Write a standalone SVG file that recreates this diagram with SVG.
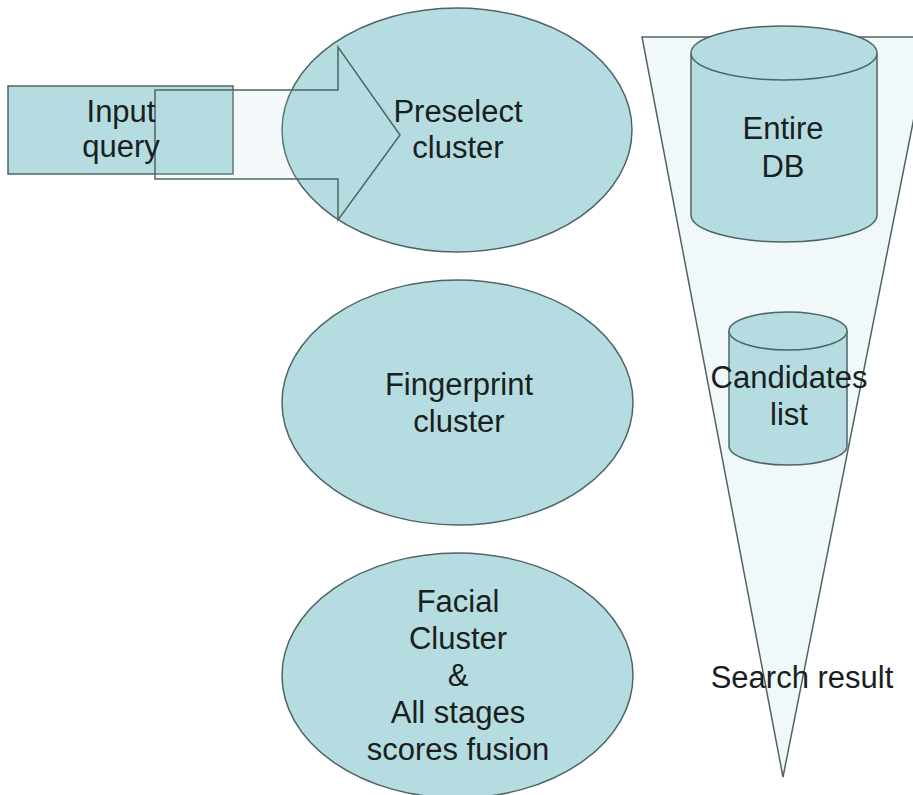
<svg xmlns="http://www.w3.org/2000/svg" width="913" height="795" viewBox="0 0 913 795">
<style>
.shape{fill:#b5dde1;stroke:#4f6464;stroke-width:1.5}
.light{fill:#f0f8f9;stroke:#4f6464;stroke-width:1.5}
.t{font-family:"Liberation Sans",Arial,sans-serif;font-size:31px;fill:#1a2020;text-anchor:middle}
</style>
<rect width="913" height="795" fill="#ffffff"/>
<g id="funnel">
<polygon class="light" points="642,37 930,37 783,777"/>
</g>
<g id="preselect">
<ellipse class="shape" cx="457" cy="130" rx="175" ry="122"/>
</g>
<g id="input-query">
<rect class="shape" x="8" y="86" width="225" height="88"/>
</g>
<g id="connectors">
<polygon points="155,90 338,90 338,47 400,135 338,220 338,179 155,179" fill="#b5dde1" fill-opacity="0.15" stroke="#4f6464" stroke-width="1.5"/>
</g>
<g id="input-query-label">
<text class="t" x="121" y="122">Input</text>
<text class="t" x="121" y="157">query</text>
</g>
<g id="preselect-label">
<text class="t" x="458" y="122">Preselect</text>
<text class="t" x="458" y="158">cluster</text>
</g>
<g id="fingerprint">
<ellipse class="shape" cx="457.5" cy="402.5" rx="175.5" ry="122.5"/>
<text class="t" x="459" y="395">Fingerprint</text>
<text class="t" x="459" y="432">cluster</text>
</g>
<g id="facial">
<ellipse class="shape" cx="457.5" cy="675.5" rx="175.5" ry="122.5"/>
<text class="t" x="458" y="612">Facial</text>
<text class="t" x="458" y="649">Cluster</text>
<text class="t" x="458" y="686">&amp;</text>
<text class="t" x="458" y="723">All stages</text>
<text class="t" x="458" y="760">scores fusion</text>
</g>
<g id="entire-db">
<path class="shape" d="M691,53 V215 A93,27 0 0 0 877,215 V53"/>
<ellipse class="shape" cx="784" cy="53" rx="93" ry="27"/>
<text class="t" x="783" y="139">Entire</text>
<text class="t" x="783" y="177">DB</text>
</g>
<g id="candidates">
<path class="shape" d="M729,331 V446 A59,19 0 0 0 847,446 V331"/>
<ellipse class="shape" cx="788" cy="331" rx="59" ry="19"/>
<text class="t" x="789" y="388">Candidates</text>
<text class="t" x="789" y="425">list</text>
</g>
<g id="search-result">
<text class="t" x="802" y="688">Search result</text>
</g>
</svg>
